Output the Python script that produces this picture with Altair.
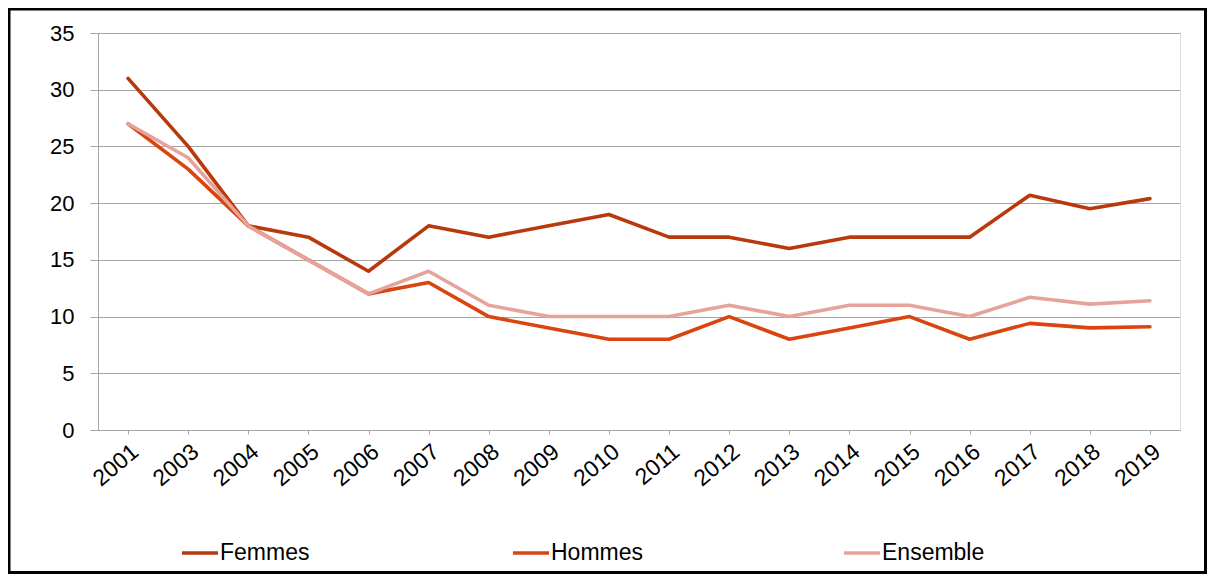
import altair as alt
import pandas as pd

years = ["2001", "2003", "2004", "2005", "2006", "2007", "2008", "2009", "2010",
         "2011", "2012", "2013", "2014", "2015", "2016", "2017", "2018", "2019"]
femmes = [31, 25, 18, 17, 14, 18, 17, 18, 19, 17, 17, 16, 17, 17, 17, 20.7, 19.5, 20.4]
hommes = [27, 23, 18, 15, 12, 13, 10, 9, 8, 8, 10, 8, 9, 10, 8, 9.4, 9.0, 9.1]
ensemble = [27, 24, 18, 15, 12, 14, 11, 10, 10, 10, 11, 10, 11, 11, 10, 11.7, 11.1, 11.4]
series = ["Femmes", "Hommes", "Ensemble"]
colors = ["#B8390C", "#D9440F", "#E6A39B"]

rows = []
for name, vals in zip(series, [femmes, hommes, ensemble]):
    for y, v in zip(years, vals):
        rows.append({"annee": y, "valeur": v, "serie": name})
df = pd.DataFrame(rows)

W, H = 1082, 397
PL, PT, PR, PB = 90, 25, 27, 144
FONT = "Liberation Sans"

lines = alt.Chart(df).mark_line(strokeWidth=3.6, strokeCap="round", strokeJoin="round").encode(
    x=alt.X("annee:O", sort=years, title=None,
            scale=alt.Scale(type="point", padding=0.5),
            axis=alt.Axis(labelAngle=-40, labelFontSize=23, labelFont=FONT, labelColor="#000",
                          tickSize=4, tickColor="#a6a6a6", domainColor="#a6a6a6",
                          labelPadding=6, grid=False)),
    y=alt.Y("valeur:Q", title=None,
            scale=alt.Scale(domain=[0, 35], nice=False),
            axis=alt.Axis(values=[0, 5, 10, 15, 20, 25, 30, 35], labelFontSize=22, labelFont=FONT,
                          labelColor="#000", tickSize=8, tickColor="#a6a6a6", domainColor="#a6a6a6",
                          gridColor="#a6a6a6", labelPadding=16)),
    color=alt.Color("serie:N", sort=series,
                    scale=alt.Scale(domain=series, range=colors),
                    legend=alt.Legend(title=None, orient="none", legendX=82, legendY=500,
                                      direction="horizontal", columns=3, gridAlign="all",
                                      symbolType="stroke", symbolSize=1300, symbolStrokeWidth=3.6,
                                      labelFontSize=23, labelFont=FONT, labelColor="#000",
                                      labelOffset=0, columnPadding=182, labelLimit=300)),
)

frame = alt.Chart(pd.DataFrame({"a": [0]})).mark_rect(
    fill=None, stroke="#000", strokeWidth=3, clip=False
).encode(
    x=alt.value(-89), x2=alt.value(W + PR - 1.5),
    y=alt.value(-PT + 1), y2=alt.value(H + PB - 1.5),
)

chart = alt.layer(lines, frame).properties(
    width=W, height=H,
    autosize=alt.AutoSizeParams(type="none"),
    padding={"left": PL, "top": PT, "right": PR, "bottom": PB},
).configure_view(stroke=None).configure(background="white")

chart.save("out.html", embed_options={"renderer": "svg", "actions": False})
